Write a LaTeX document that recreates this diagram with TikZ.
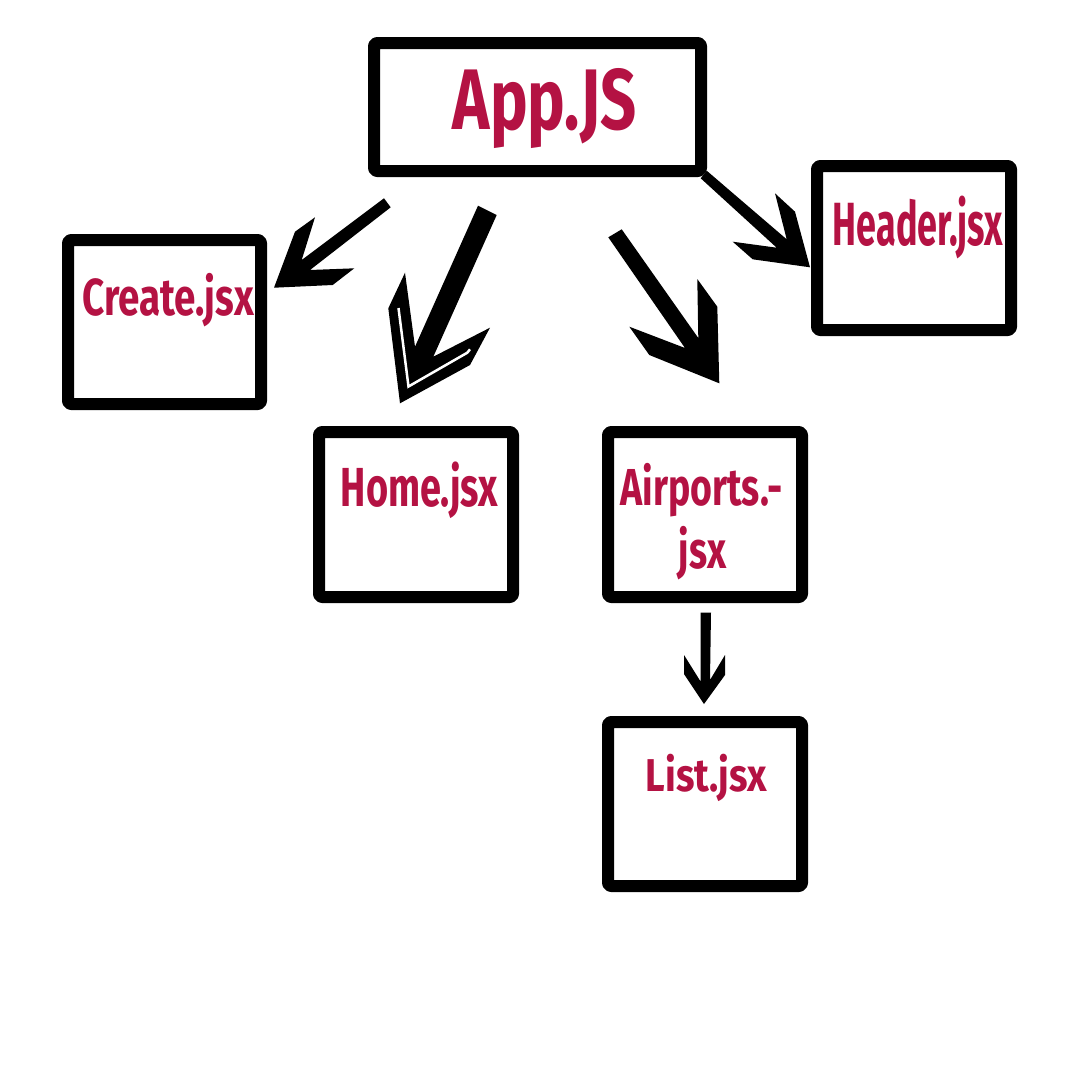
\documentclass[tikz,border=0pt]{standalone}
\usepackage{fontspec}
\newfontfamily\dinfont{Fira Sans}
\definecolor{jsred}{RGB}{180,18,67}
\tikzset{
    box/.style={draw, line width=12pt, line join=round, rounded corners=3pt, inner sep=0pt, outer sep=0pt},
    lbl/.style 2 args={text=jsred, inner sep=0pt, anchor=base,
        font=\dinfont\bfseries\fontsize{#1}{#1}\selectfont\addfontfeature{FakeStretch=#2}},
    arrowfill/.style={fill=black},
}

\begin{document}
\begin{tikzpicture}[x=1pt,y=-1pt]
		\useasboundingbox (0,0) rectangle (1080,1080);
		% files
		\node[box, minimum width=327pt, minimum height=128pt] (app) at (537.5,107) {};
		\node[box, minimum width=193pt, minimum height=164pt] (create) at (164.5,322) {};
		\node[box, minimum width=194pt, minimum height=164pt] (header) at (914,248) {};
		\node[box, minimum width=194pt, minimum height=165pt] (home) at (416,514.5) {};
		\node[box, minimum width=194pt, minimum height=165pt] (airports) at (705,514.5) {};
		\node[box, minimum width=194pt, minimum height=164pt] (list) at (705,804) {};
		% names
		\node[lbl={86}{0.735}] (apptxt) at (544.5,129) {App.JS};
		\node[lbl={52}{0.743}] (createtxt) at (168,315) {Create.jsx};
		\node[lbl={61}{0.59}] (headertxt) at (918,245) {Header.jsx};
		\node[lbl={55}{0.69}] (hometxt) at (419.5,506.5) {Home.jsx};
		\node[lbl={52}{0.72}] (airportstxt) at (701.5,505) {Airports.-};
		\node[lbl={52}{0.72}] (airportstxtb) at (702.5,568) {jsx};
		\node[lbl={46}{0.83}] (listtxt) at (706.5,791.5) {List.jsx};
		% arrows
		\fill[arrowfill] (384,198.3) -- (390.7,207.3) -- (310,270) -- (354.3,268.3) -- (332.7,285)
			-- (274,287.7) -- (295,231.7) -- (315,217.3) -- (301.7,260) -- cycle;
		\fill[arrowfill] (478,205.7) -- (496.7,215) -- (433.3,356.7) -- (490,327.7) -- (470,365)
			-- (400,403.3) -- (388.3,308.3) -- (405,272.7) -- (415,346.7) -- cycle;
		\draw[white, line width=2.5pt] (398.5,308) -- (408.5,386.5) -- (467.3,352.7) -- (470,349.3);
		\fill[arrowfill] (608.3,237.3) -- (621.7,229.3) -- (698.3,338) -- (697.3,279) -- (717.3,306.7)
			-- (719.3,383.3) -- (649.3,355) -- (629.3,326.7) -- (685,348) -- cycle;
		\fill[arrowfill] (706.7,170.7) -- (786.7,239.3) -- (775,193.3) -- (795,211.7) -- (810,267.3)
			-- (752.7,259.3) -- (732.7,241.7) -- (776.7,247.7) -- (700.7,178.3) -- cycle;
		\fill[arrowfill] (700.7,612.7) -- (711,612.7) -- (710,680) -- (725,655) -- (725,675)
			-- (704,704) -- (684,674) -- (684,655) -- (700.7,681.7) -- cycle;
	\end{tikzpicture}
\end{document}
